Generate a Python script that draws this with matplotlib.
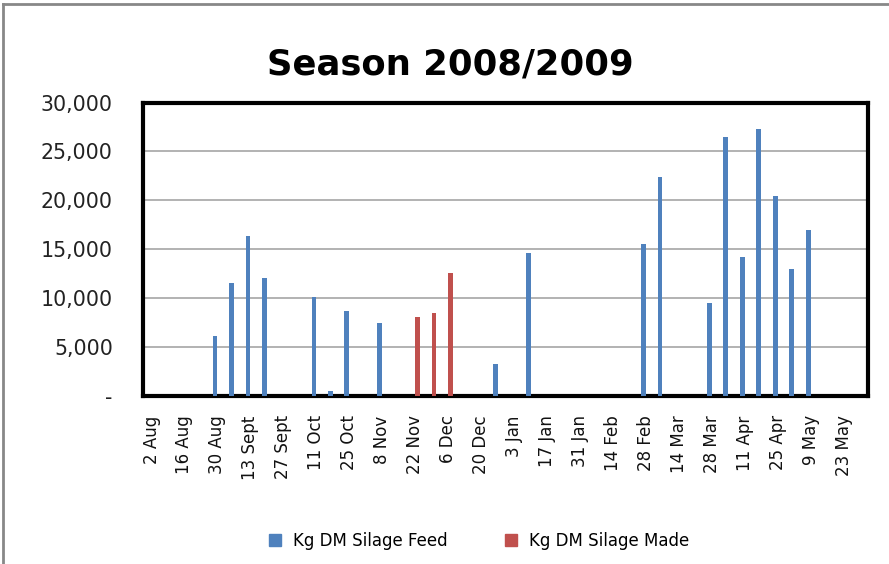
import numpy as np
import matplotlib.pyplot as plt
from matplotlib.lines import Line2D

# weekly categories, 2 Aug 2008 .. 30 May 2009
weeks = ["2 Aug", "9 Aug", "16 Aug", "23 Aug", "30 Aug", "6 Sept", "13 Sept",
         "20 Sept", "27 Sept", "4 Oct", "11 Oct", "18 Oct", "25 Oct", "1 Nov",
         "8 Nov", "15 Nov", "22 Nov", "29 Nov", "6 Dec", "13 Dec", "20 Dec",
         "27 Dec", "3 Jan", "10 Jan", "17 Jan", "24 Jan", "31 Jan", "7 Feb",
         "14 Feb", "21 Feb", "28 Feb", "7 Mar", "14 Mar", "21 Mar", "28 Mar",
         "4 Apr", "11 Apr", "18 Apr", "25 Apr", "2 May", "9 May", "16 May",
         "23 May", "30 May"]

# Kg DM silage fed, by week
feed = [0, 0, 0, 0, 6100, 11500, 16300, 12100, 0, 0, 10150, 520, 8700, 0,
        7400, 0, 0, 0, 0, 0, 0, 3300, 0, 14650, 0, 0, 0, 0, 0, 0, 15550,
        22400, 0, 0, 9500, 26450, 14250, 27250, 20450, 12950, 17000, 0, 0, 0]

# Kg DM silage made, by week
made = [0] * 44
made[16] = 8050
made[17] = 8450
made[18] = 12550

blue = "#4F81BD"
red = "#C0504D"
plt.rcParams["font.family"] = ["DejaVu Sans"]

fig = plt.figure(figsize=(8.89, 5.64), dpi=100)
ax = fig.add_axes([0.1612, 0.2982, 0.8155, 0.5199])

x = np.arange(len(weeks))
w = 0.29
ax.bar(x - w / 2, feed, width=w, color=blue, zorder=3)
ax.bar(x + w / 2, made, width=w, color=red, zorder=3)

ax.set_xlim(-0.5, len(weeks) - 0.5)
ax.set_ylim(0, 30000)
ax.set_yticks(np.arange(0, 30001, 5000))
ax.set_yticklabels(["-"] + [f"{v:,}" for v in range(5000, 30001, 5000)],
                   fontsize=14.8, color="#222222")
ax.set_xticks(x[::2])
ax.set_xticklabels(weeks[::2], rotation=90, fontsize=12, color="#111111")
ax.tick_params(axis="both", length=0)
ax.tick_params(axis="y", pad=22)
ax.tick_params(axis="x", pad=14)
ax.grid(axis="y", color="#a6a6a6", linewidth=1.2, zorder=0)

for s in ax.spines.values():
    s.set_linewidth(3)
    s.set_color("black")

fig.text(0.506, 0.868, "Season 2008/2009", ha="center", va="baseline",
         fontsize=25.5, fontweight="bold")

handles = [Line2D([], [], marker="s", ls="", color=blue, markersize=8),
           Line2D([], [], marker="s", ls="", color=red, markersize=8)]
fig.legend(handles, ["Kg DM Silage Feed", "Kg DM Silage Made"],
           loc="center", bbox_to_anchor=(0.533, 0.041), ncol=2, frameon=False,
           fontsize=12, handletextpad=0.1, columnspacing=2.8)

# outer chart frame (top and left edges)
fig.add_artist(Line2D([0.0035, 0.0035], [0, 0.993], color="#888888", lw=2,
                      transform=fig.transFigure))
fig.add_artist(Line2D([0.0035, 1], [0.993, 0.993], color="#888888", lw=2,
                      transform=fig.transFigure))

fig.savefig("out.png", dpi=100)
